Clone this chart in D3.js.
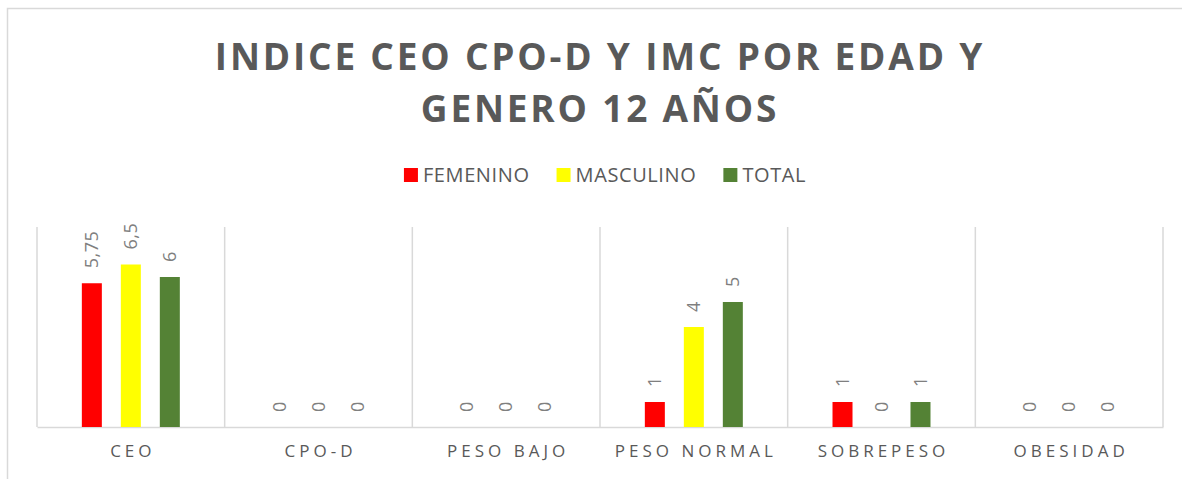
<!DOCTYPE html>
<html>
<head>
<meta charset="utf-8">
<script src="https://cdn.jsdelivr.net/npm/d3@7"></script>
<style>
  body { margin: 0; background: #fff; }
  text { font-family: "Open Sans", "DejaVu Sans", sans-serif; }
</style>
</head>
<body>
<div id="chart"></div>
<script>
var categories = ["CEO", "CPO-D", "PESO BAJO", "PESO NORMAL", "SOBREPESO", "OBESIDAD"];
var seriesNames = ["FEMENINO", "MASCULINO", "TOTAL"];
var seriesColors = ["#ff0000", "#ffff00", "#548235"];
var femenino = [5.75, 0, 0, 1, 1, 0];
var masculino = [6.5, 0, 0, 4, 0, 0];
var total = [6, 0, 0, 5, 1, 0];
var titleLines = ["INDICE CEO CPO-D Y IMC POR EDAD Y", "GENERO 12 AÑOS"];

var seriesValues = [femenino, masculino, total];

var width = 1182, height = 479;
var margin = {top: 227, right: 19, bottom: 52, left: 37};

var svg = d3.select("#chart").append("svg")
  .attr("width", width)
  .attr("height", height);

// outer chart border
svg.append("rect")
  .attr("x", 7.5).attr("y", 8.5)
  .attr("width", width + 10).attr("height", height + 10)
  .attr("fill", "none")
  .attr("stroke", "#d9d9d9")
  .attr("stroke-width", 1.5);

// TITLE
svg.selectAll(".title")
  .data(titleLines)
  .enter().append("text")
  .attr("class", "title")
  .attr("x", 600)
  .attr("y", function(d, i) { return 70 + i * 52; })
  .attr("text-anchor", "middle")
  .style("font-size", "37px")
  .style("font-weight", "bold")
  .style("letter-spacing", "2.8px")
  .style("fill", "#595959")
  .text(function(d) { return d; });

// LEGEND
var legend = svg.append("g").attr("class", "legend");
var lx = 0;
seriesNames.forEach(function(name, i) {
  var g = legend.append("g").attr("transform", "translate(" + lx + ",0)");
  g.append("rect")
    .attr("x", 0).attr("y", -14)
    .attr("width", 14).attr("height", 14)
    .attr("fill", seriesColors[i]);
  var t = g.append("text")
    .attr("x", 19).attr("y", 0)
    .style("font-size", "20px")
    .style("letter-spacing", "0.6px")
    .style("fill", "#595959")
    .text(name);
  lx += 19 + t.node().getComputedTextLength() + 27;
});
lx -= 27;
legend.attr("transform", "translate(" + (605 - lx / 2) + ",182)");

// SCALES
var x = d3.scaleBand()
  .domain(categories)
  .range([margin.left, width - margin.right]);

var xs = d3.scaleBand()
  .domain(seriesNames)
  .range([0, x.bandwidth()])
  .paddingInner(0.487)
  .paddingOuter(1.15);

var y = d3.scaleLinear()
  .domain([0, 8])
  .range([height - margin.bottom, margin.top]);

// GRIDLINES (category separators)
var bounds = categories.map(function(c) { return x(c); }).concat([width - margin.right]);
svg.selectAll(".grid")
  .data(bounds)
  .enter().append("line")
  .attr("class", "grid")
  .attr("x1", function(d) { return d; })
  .attr("x2", function(d) { return d; })
  .attr("y1", margin.top)
  .attr("y2", y(0))
  .attr("stroke", "#d9d9d9")
  .attr("stroke-width", 1.5);

// AXIS
var xAxis = svg.append("g")
  .attr("class", "x-axis")
  .attr("transform", "translate(0," + y(0) + ")")
  .call(d3.axisBottom(x).tickSize(0).tickPadding(18));
xAxis.select(".domain").attr("stroke", "#d9d9d9").attr("stroke-width", 1.5);
xAxis.selectAll("text")
  .style("font-family", "'Open Sans', sans-serif")
  .style("font-size", "17px")
  .style("letter-spacing", "4px")
  .style("fill", "#595959")
  .attr("dx", "2px");

// BARS
var data = [];
categories.forEach(function(c, ci) {
  seriesNames.forEach(function(s, si) {
    data.push({cat: c, series: s, value: seriesValues[si][ci], color: seriesColors[si]});
  });
});

svg.selectAll(".bar")
  .data(data)
  .enter().append("rect")
  .attr("class", "bar")
  .attr("x", function(d) { return x(d.cat) + xs(d.series); })
  .attr("width", xs.bandwidth())
  .attr("y", function(d) { return y(d.value); })
  .attr("height", function(d) { return y(0) - y(d.value); })
  .attr("fill", function(d) { return d.color; });

// DATA LABELS
svg.selectAll(".label")
  .data(data)
  .enter().append("text")
  .attr("class", "label")
  .attr("transform", function(d) {
    var cx = x(d.cat) + xs(d.series) + xs.bandwidth() / 2;
    return "translate(" + cx + "," + (y(d.value) - 15) + ") rotate(-90)";
  })
  .attr("dy", "0.35em")
  .style("font-size", "18px")
  .style("letter-spacing", "0.5px")
  .style("fill", "#7f7f7f")
  .text(function(d) { return String(d.value).replace(".", ","); });
</script>
</body>
</html>
